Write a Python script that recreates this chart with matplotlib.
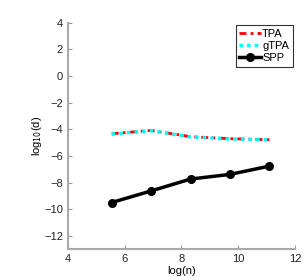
import matplotlib
matplotlib.use('Agg')
import matplotlib.pyplot as plt

# x = log(n), n = 4^4 .. 4^8
log_n = [5.545, 6.931, 8.318, 9.704, 11.090]
tpa = [-4.33, -4.08, -4.55, -4.70, -4.78]
gtpa = [-4.36, -4.10, -4.57, -4.72, -4.80]
spp = [-9.49, -8.62, -7.73, -7.38, -6.76]

xticks = [4, 6, 8, 10, 12]
yticks = [-12, -10, -8, -6, -4, -2, 0, 2, 4]

plt.rcParams['font.family'] = ['Liberation Sans', 'DejaVu Sans']

fig = plt.figure(figsize=(3.04, 2.77), dpi=100)
ax = fig.add_axes([0.223, 0.100, 0.748, 0.818])

ax.plot(log_n, tpa, color='red', linestyle=(0, (2.5, 1.5, 1, 1.5)),
        linewidth=2, label='TPA')
ax.plot(log_n, gtpa, color='cyan', linestyle=(0, (1, 1.2)),
        linewidth=2.5, label='gTPA')
ax.plot(log_n, spp, color='black', linestyle='-', linewidth=2.5,
        marker='o', markersize=5.5, label='SPP')

ax.set_xlim(4, 12)
ax.set_ylim(-13, 4)
ax.set_xticks(xticks)
ax.set_yticks(yticks)
ax.tick_params(direction='in', length=3, labelsize=8, color='#999999',
               labelcolor='#222222')
for side in ['top', 'right']:
    ax.spines[side].set_visible(False)
for side in ['left', 'bottom']:
    ax.spines[side].set_color('#aaaaaa')
    ax.spines[side].set_linewidth(1.5)

ax.set_xlabel('log(n)', fontsize=8, labelpad=1)
ax.set_ylabel('log$_{10}$(d)', fontsize=8, labelpad=0)

leg = ax.legend(loc='upper right', fontsize=8, frameon=True, fancybox=False,
                handlelength=1.9, handletextpad=0.15, borderpad=0.35,
                labelspacing=0.2, borderaxespad=0.2)
leg.get_frame().set_edgecolor('black')
leg.get_frame().set_linewidth(0.8)

plt.savefig('out.png', dpi=100)
